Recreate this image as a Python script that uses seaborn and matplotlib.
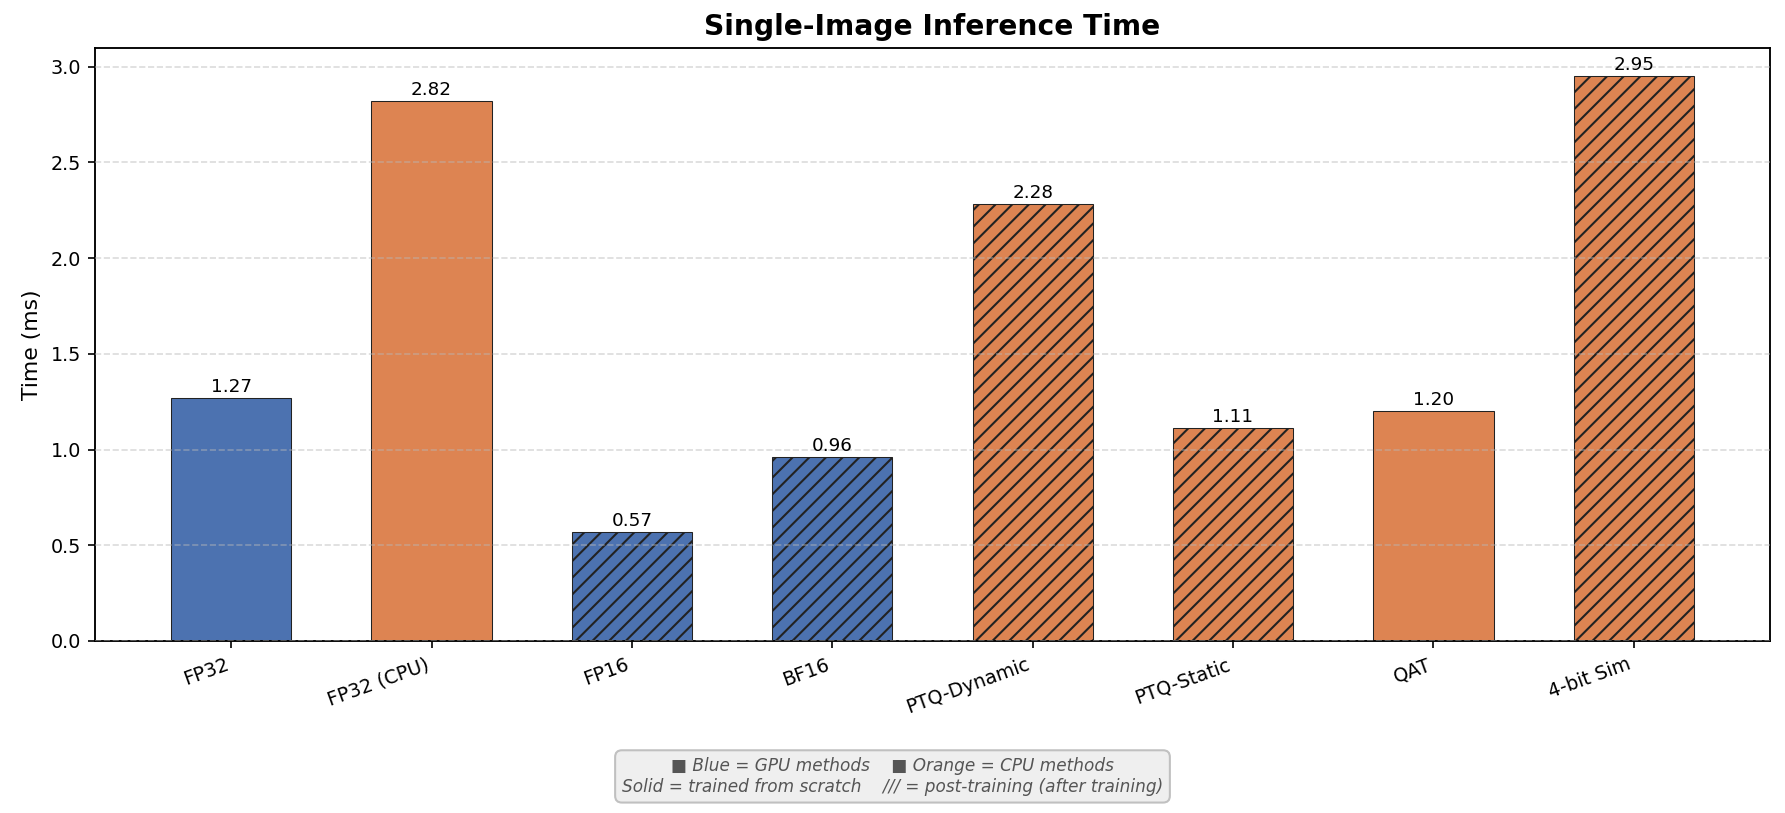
import matplotlib
matplotlib.use("Agg")
import matplotlib.pyplot as plt
import seaborn as sns
import pandas as pd

methods = ['FP32', 'FP32 (CPU)', 'FP16', 'BF16', 'PTQ-Dynamic', 'PTQ-Static', 'QAT', '4-bit Sim']
times = [1.27, 2.82, 0.57, 0.96, 2.28, 1.11, 1.20, 2.95]
device = ['GPU', 'CPU', 'GPU', 'GPU', 'CPU', 'CPU', 'CPU', 'CPU']
post_training = [False, False, True, True, True, True, False, True]

device_colors = {'GPU': '#4C72B0', 'CPU': '#DD8452'}
colors = [device_colors[d] for d in device]

df = pd.DataFrame({'method': methods, 'time': times})

sns.set_style('white')
plt.rcParams['font.family'] = ['DejaVu Sans']
plt.rcParams.update({'text.color': 'black', 'axes.labelcolor': 'black',
                     'xtick.color': 'black', 'ytick.color': 'black'})

fig, ax = plt.subplots(figsize=(11.9, 5.42), dpi=150)
fig.subplots_adjust(left=0.0532, right=0.9916, top=0.941, bottom=0.2116)

sns.barplot(data=df, x='method', y='time', hue='method', palette=colors,
            width=0.6, edgecolor='#222222', linewidth=0.5, saturation=1,
            legend=False, ax=ax)

for patch, hatched in zip(ax.patches, post_training):
    if hatched:
        patch.set_hatch('///')

for cont in ax.containers:
    ax.bar_label(cont, fmt='%.2f', padding=1, fontsize=8.8)

ax.set_title('Single-Image Inference Time', fontsize=13.5, fontweight='bold')
ax.set_xlabel('')
ax.set_ylabel('Time (ms)', fontsize=10.5)
ax.set_xlim(-0.68, len(methods) - 0.32)
ax.set_ylim(0, max(times) * 1.05)
plt.setp(ax.get_xticklabels(), rotation=20, ha='right')
ax.tick_params(axis='both', labelsize=9.2, left=True, bottom=True, length=3.2, width=0.8)
ax.grid(axis='y', linestyle='--', color='#b8b8b8', alpha=0.5, linewidth=0.8)
ax.set_axisbelow(False)
for s in ax.spines.values():
    s.set_color('black')
    s.set_linewidth(0.9)

fig.text(0.5, 0.045,
         '\u25a0 Blue = GPU methods    \u25a0 Orange = CPU methods\n'
         'Solid = trained from scratch    /// = post-training (after training)',
         ha='center', va='center', fontsize=8.1, style='italic', color='#555555',
         bbox=dict(boxstyle='round,pad=0.4', facecolor='#eeeeee',
                   edgecolor='#bbbbbb', alpha=0.9))

fig.savefig('out.png', dpi=150)
